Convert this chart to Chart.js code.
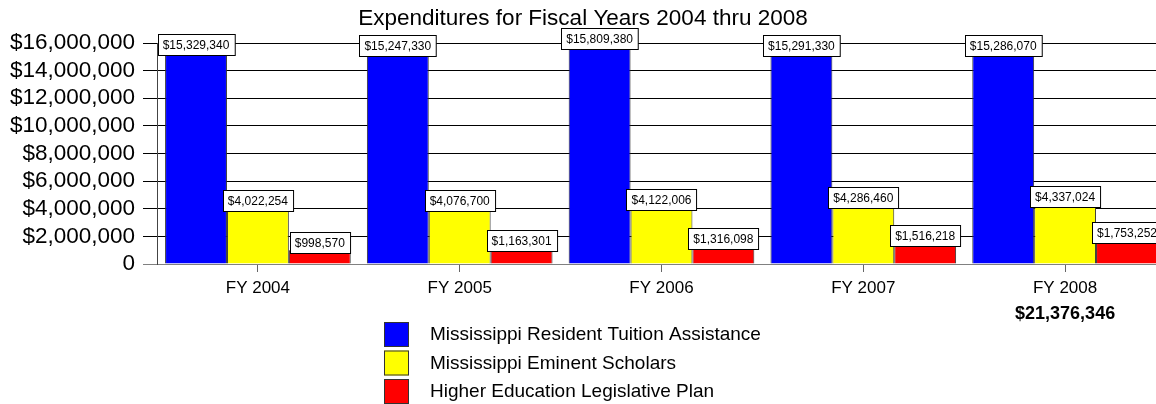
<!DOCTYPE html>
<html>
<head>
<meta charset="utf-8">
<script src="https://cdn.jsdelivr.net/npm/chart.js@4/dist/chart.umd.min.js"></script>
<style>
  html, body { margin: 0; padding: 0; background: #fff; overflow: hidden; }
  #wrap { width: 1170px; height: 404px; position: relative; }
</style>
</head>
<body>
<div id="wrap"><canvas id="expChart"></canvas></div>
<script>
const categories = ['FY 2004', 'FY 2005', 'FY 2006', 'FY 2007', 'FY 2008'];
const tuition = [15329340, 15247330, 15809380, 15291330, 15286070];
const eminent = [4022254, 4076700, 4122006, 4286460, 4337024];
const legislative = [998570, 1163301, 1316098, 1516218, 1753252];
const seriesNames = [
    'Mississippi Resident Tuition Assistance',
    'Mississippi Eminent Scholars',
    'Higher Education Legislative Plan'
];
const yTicks = [0, 2000000, 4000000, 6000000, 8000000, 10000000, 12000000, 14000000, 16000000];

const FONT = '"Liberation Sans", Arial, sans-serif';

function money(v) {
    return '$' + v.toLocaleString('en-US');
}

// boxed value labels above bars
const valueLabels = {
    id: 'valueLabels',
    afterDatasetsDraw(chart) {
        const ctx = chart.ctx;
        ctx.save();
        ctx.font = '12px ' + FONT;
        ctx.textAlign = 'center';
        ctx.textBaseline = 'middle';
        chart.data.datasets.forEach((ds, i) => {
            chart.getDatasetMeta(i).data.forEach((bar, j) => {
                const txt = money(ds.data[j]);
                const w = ctx.measureText(txt).width + 10;
                const h = 21;
                const bx = Math.round(bar.x - w / 2) + 0.5;
                const by = Math.round(bar.y + 3 - h) + 0.5;
                ctx.fillStyle = '#fff';
                ctx.fillRect(bx, by, w, h);
                ctx.strokeStyle = '#000';
                ctx.lineWidth = 1;
                ctx.strokeRect(bx, by, w, h);
                ctx.fillStyle = '#000';
                ctx.fillText(txt, bar.x, by + h / 2 + 0.5);
            });
        });
        ctx.restore();
    }
};

// total under the last year + vertical legend
const extras = {
    id: 'extras',
    afterDraw(chart) {
        const ctx = chart.ctx;
        const x = chart.scales.x;
        const last = categories.length - 1;
        const total = tuition[last] + eminent[last] + legislative[last];
        ctx.save();
        ctx.fillStyle = '#000';
        ctx.textAlign = 'center';
        ctx.textBaseline = 'middle';
        ctx.font = 'bold 18px ' + FONT;
        ctx.fillText(money(total), x.getPixelForValue(last), 314);

        ctx.textAlign = 'left';
        ctx.font = '19px ' + FONT;
        chart.data.datasets.forEach((ds, i) => {
            const top = 322 + i * 28.5;
            ctx.fillStyle = ds.backgroundColor;
            ctx.fillRect(384, top, 25, 25);
            ctx.strokeStyle = '#333';
            ctx.lineWidth = 1;
            ctx.strokeRect(384.5, top + 0.5, 24, 24);
            ctx.fillStyle = '#000';
            ctx.fillText(ds.label, 430, top + 13);
        });
        ctx.restore();
    }
};

const chart = new Chart(document.getElementById('expChart'), {
    type: 'bar',
    data: {
        labels: categories,
        datasets: [
            { label: seriesNames[0], data: tuition, backgroundColor: '#0000ff' },
            { label: seriesNames[1], data: eminent, backgroundColor: '#ffff00' },
            { label: seriesNames[2], data: legislative, backgroundColor: '#ff0000' }
        ].map(d => Object.assign(d, {
            borderColor: '#333',
            borderWidth: 1,
            categoryPercentage: 0.92,
            barPercentage: 1.0
        }))
    },
    options: {
        responsive: true,
        maintainAspectRatio: false,
        animation: false,
        devicePixelRatio: 1,
        layout: { padding: { left: 0, right: 4, top: 0, bottom: 0 } },
        plugins: {
            legend: { display: false },
            tooltip: { enabled: false },
            title: {
                display: true,
                text: 'Expenditures for Fiscal Years 2004 thru 2008',
                color: '#000',
                font: { family: FONT, size: 22.5, weight: 'normal' },
                padding: { top: 5, bottom: 11 }
            }
        },
        scales: {
            x: {
                grid: {
                    offset: false,
                    drawOnChartArea: false,
                    tickLength: 8,
                    tickColor: '#666'
                },
                border: { color: '#808080' },
                ticks: {
                    color: '#000',
                    padding: 6,
                    font: { family: FONT, size: 17 }
                },
                afterFit(scale) { scale.height = 140; }
            },
            y: {
                min: 0,
                max: 16000000,
                afterBuildTicks(scale) {
                    scale.ticks = yTicks.map(v => ({ value: v }));
                },
                grid: {
                    color: ctx => ctx.tick && ctx.tick.value === 0 ? '#808080' : '#000',
                    tickLength: 14
                },
                border: { color: '#444' },
                ticks: {
                    color: '#000',
                    padding: 8,
                    autoSkip: false,
                    font: { family: FONT, size: 22.5, lineHeight: 1 },
                    callback: v => v === 0 ? '0' : money(v)
                },
                afterFit(scale) { scale.width = 157; }
            }
        }
    },
    plugins: [valueLabels, extras]
});
</script>
</body>
</html>
